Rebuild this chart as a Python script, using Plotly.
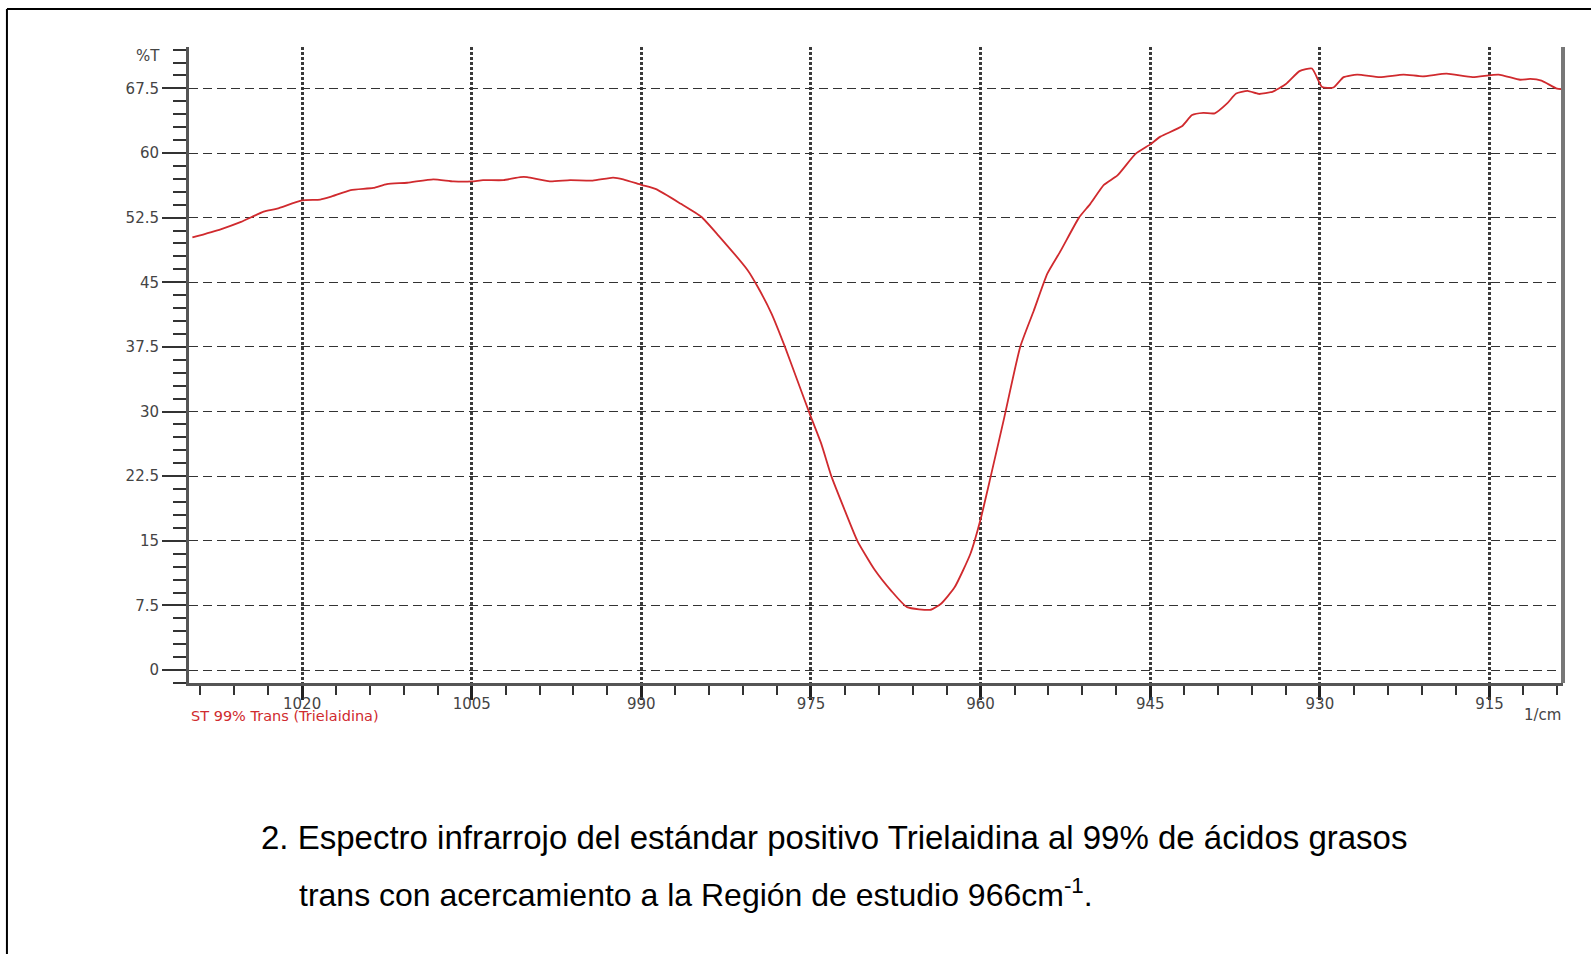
import plotly.graph_objects as go

# Infrared spectrum of the Trielaidin standard (99 % trans), 1030-908 cm-1 window
wavenumber = [
    1029.7, 1027.2, 1025.4, 1023.4, 1022.2, 1020.0, 1018.4, 1017.5, 1015.7, 1013.7,
    1012.5, 1010.7, 1008.4, 1006.6, 1005.0, 1004.0, 1002.2, 1000.7, 1000.1, 998.1,
    996.3, 994.3, 992.5, 991.6, 990.0, 988.7, 986.5, 984.7, 983.2, 980.6,
    979.7, 978.5, 977.3, 976.2, 975.0, 974.1, 973.2, 972.0, 970.9, 969.4,
    967.9, 966.5, 964.4, 963.5, 962.3, 960.9, 960.0, 959.1, 957.9, 956.5,
    955.3, 954.1, 952.9, 951.3, 950.3, 949.1, 947.9, 946.3, 945.0, 944.1,
    942.2, 941.3, 940.3, 939.3, 938.2, 937.4, 936.4, 935.4, 934.2, 933.0,
    931.8, 930.7, 929.8, 928.8, 927.9, 926.7, 924.7, 922.6, 920.9, 918.8,
    916.5, 914.2, 912.3, 911.4, 910.4, 909.1, 908.5,
]
transmittance = [
    50.2, 51.15, 52.0, 53.2, 53.55, 54.5, 54.6, 54.9, 55.7, 55.95,
    56.4, 56.55, 56.95, 56.7, 56.7, 56.85, 56.85, 57.2, 57.2, 56.7,
    56.85, 56.8, 57.15, 56.95, 56.3, 55.8, 54.1, 52.6, 50.45, 46.4,
    44.45, 41.4, 37.5, 33.6, 29.35, 26.3, 22.5, 18.5, 15.0, 11.7,
    9.2, 7.3, 7.0, 7.7, 9.6, 13.5, 17.5, 22.5, 29.35, 37.5,
    41.7, 46.0, 48.7, 52.5, 54.1, 56.3, 57.4, 59.9, 61.0, 61.9,
    63.1, 64.4, 64.65, 64.6, 65.75, 66.9, 67.2, 66.85, 67.1, 68.0,
    69.5, 69.8, 67.65, 67.6, 68.8, 69.1, 68.8, 69.1, 68.9, 69.2,
    68.8, 69.1, 68.5, 68.6, 68.4, 67.5, 67.4,
]

series_name = "ST 99% Trans (Trielaidina)"
y_title = "%T"
x_title = "1/cm"
caption_1 = "2. Espectro infrarrojo del estándar positivo Trielaidina al 99% de ácidos grasos"
caption_2 = "trans con acercamiento a la Región de estudio 966cm<sup>-1</sup>."

RED = "#d02a2e"
TICK_FONT = dict(family="DejaVu Sans", size=15, color="#444")

fig = go.Figure()
fig.add_trace(go.Scatter(
    x=wavenumber, y=transmittance, mode="lines",
    line=dict(color=RED, width=1.8, shape="spline", smoothing=0.5),
    name=series_name, hoverinfo="x+y",
))

fig.update_layout(
    width=1591, height=954,
    margin=dict(l=189, r=28, t=47, b=271),
    plot_bgcolor="white", paper_bgcolor="white",
    showlegend=False,
)

fig.update_xaxes(
    range=[1030, 908.5], autorange=False,
    tick0=0, dtick=15,
    showgrid=True, gridcolor="#3a3a3a", gridwidth=3, griddash="3px,2px",
    zeroline=False,
    showline=True, linecolor="#555", linewidth=3,
    ticks="outside", ticklen=14, tickwidth=3, tickcolor="#222",
    ticklabelstandoff=-9,
    tickfont=TICK_FONT,
    minor=dict(tick0=0, dtick=3, ticks="outside", ticklen=9, tickwidth=2,
               tickcolor="#333", showgrid=False),
)
fig.update_yaxes(
    range=[-1.5, 72.3], autorange=False,
    tick0=0, dtick=7.5,
    showgrid=True, gridcolor="#333", gridwidth=1.3, griddash="9px,5px",
    zeroline=False,
    showline=True, linecolor="#555", linewidth=3,
    ticks="outside", ticklen=24, tickwidth=2, tickcolor="#333",
    tickfont=TICK_FONT,
    minor=dict(tick0=0, dtick=1.5, ticks="outside", ticklen=13, tickwidth=2,
               tickcolor="#333", showgrid=False),
)

# right-hand frame of the plot area
fig.add_shape(type="line", xref="paper", yref="paper", x0=1, x1=1, y0=0, y1=1,
              line=dict(color="#777", width=4))
# page border
fig.add_shape(type="line", xref="paper", yref="paper", x0=-0.1325, x1=1.05,
              y0=1.0597, y1=1.0597, line=dict(color="black", width=2))
fig.add_shape(type="line", xref="paper", yref="paper", x0=-0.1325, x1=-0.1325,
              y0=1.0597, y1=-0.45, line=dict(color="black", width=2))

fig.add_annotation(text=y_title, xref="paper", yref="paper", x=-0.0197, y=0.9858,
                   xanchor="right", yanchor="middle", showarrow=False, font=TICK_FONT)
fig.add_annotation(text=x_title, xref="paper", yref="paper", x=1.0, y=-0.0505,
                   xanchor="right", yanchor="middle", showarrow=False, font=TICK_FONT)
fig.add_annotation(text=series_name, xref="paper", yref="paper", x=0.0, y=-0.0525,
                   xanchor="left", yanchor="middle", showarrow=False,
                   font=dict(family="DejaVu Sans", size=14.5, color=RED))

fig.add_annotation(text=caption_1, xref="paper", yref="paper", x=0.0509, y=-0.2437,
                   xanchor="left", yanchor="middle", showarrow=False,
                   font=dict(family="Liberation Sans", size=33, color="black"))
fig.add_annotation(text=caption_2, xref="paper", yref="paper", x=0.0786, y=-0.330,
                   xanchor="left", yanchor="middle", showarrow=False,
                   font=dict(family="Liberation Sans", size=32, color="black"))

fig.write_html("out.html")
